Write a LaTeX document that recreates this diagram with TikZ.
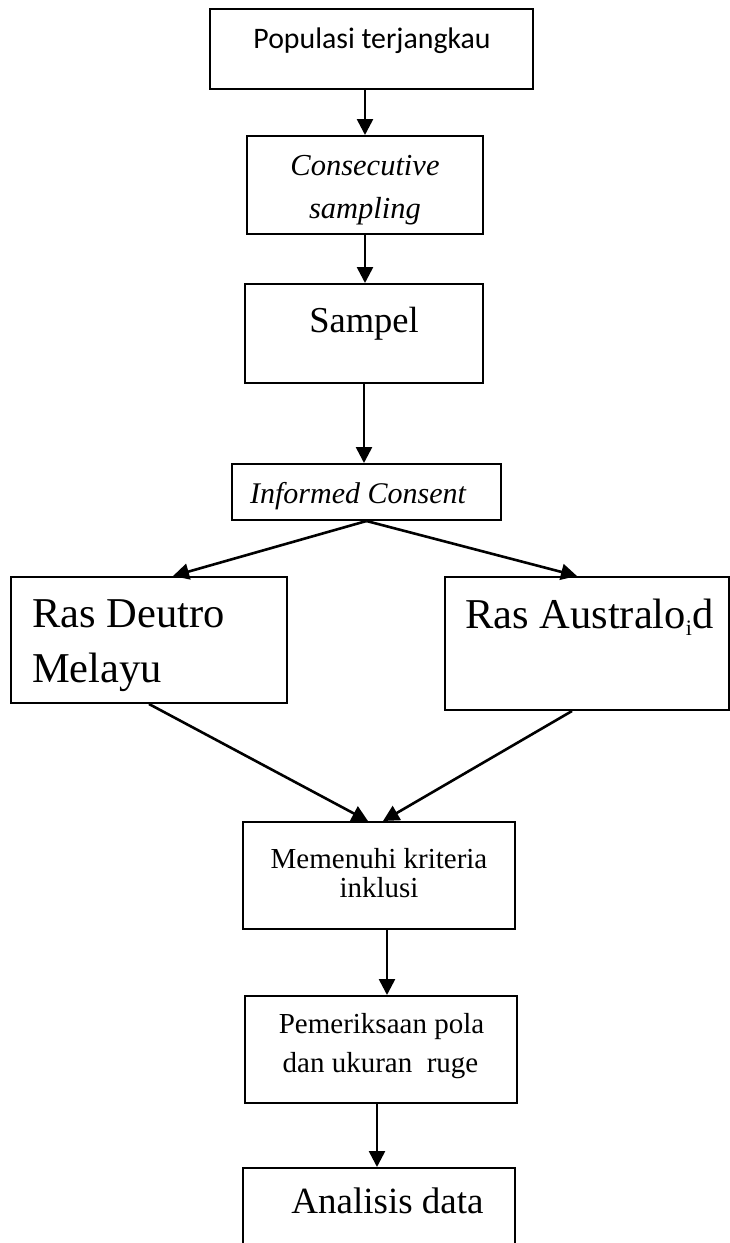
\documentclass[tikz,border=0pt]{standalone}
\usepackage{fontspec}
\setmainfont{Liberation Serif}
\newfontfamily\calibri{Carlito}
\usetikzlibrary{arrows.meta}
\tikzset{
  box/.style={draw, line width=2pt, inner sep=0pt},
  txt/.style={anchor=base, inner sep=0pt},
  lefttxt/.style={anchor=base west, inner sep=0pt},
  arr/.style={line width=2.6pt, -{Triangle[length=16pt,width=16pt]}}
}
\newcommand{\fsz}[1]{\fontsize{#1}{#1}\selectfont}

\begin{document}
\begin{tikzpicture}[x=1pt,y=-1pt]
\useasboundingbox (0,0) rectangle (730,1243);
\node[box, minimum width=323pt, minimum height=80pt] (pop) at (371.5,49) {};
\node[box, minimum width=236pt, minimum height=98pt] (cons) at (365,185) {};
\node[box, minimum width=238pt, minimum height=99pt] (samp) at (364,333.5) {};
\node[box, minimum width=269pt, minimum height=56pt] (inf) at (366.5,492) {};
\node[box, minimum width=276pt, minimum height=126pt] (deu) at (149,640) {};
\node[box, minimum width=284pt, minimum height=133pt] (aus) at (587,643.5) {};
\node[box, minimum width=272pt, minimum height=107pt] (mem) at (379,875.5) {};
\node[box, minimum width=272pt, minimum height=107pt] (pem) at (381,1049.5) {};
\node[box, minimum width=272pt, minimum height=92pt] (ana) at (379,1214) {};

\node[txt] (popt) at (372,48) {\calibri\fsz{29.8}Populasi terjangkau};
\node[txt] (const1) at (365,175) {\fsz{30.5}\itshape Consecutive};
\node[txt] (const2) at (365,218) {\fsz{30.5}\itshape sampling};
\node[txt] (sampt) at (364,332) {\fsz{36.5}Sampel};
\node[txt] (inft) at (358,503) {\fsz{30}\itshape Informed Consent};
\node[lefttxt] (deut1) at (32,627) {\fsz{42.5}Ras Deutro};
\node[lefttxt] (deut2) at (32,682) {\fsz{42.5}Melayu};
\node[lefttxt] (aust) at (465,628) {\fsz{42.5}Ras Australo\raisebox{-7pt}{\fsz{22}i}d};
\node[txt] (memt1) at (379,868) {\fsz{29}Memenuhi kriteria};
\node[txt] (memt2) at (379,897) {\fsz{29}inklusi};
\node[txt] (pemt1) at (381.5,1033) {\fsz{29}Pemeriksaan pola};
\node[txt] (pemt2) at (380.5,1072) {\fsz{29}dan ukuran\ \ ruge};
\node[txt] (anat) at (387.5,1213) {\fsz{37}Analisis data};

\draw[arr] (pop.south -| cons.north) -- (cons.north);
\draw[arr] (cons.south) -- (cons.south |- samp.north);
\draw[arr] (samp.south) -- (samp.south |- inf.north);
\draw[arr] (inf.south) -- ([xshift=24pt]deu.north);
\draw[arr] (inf.south) -- ([xshift=-10pt]aus.north);
\draw[arr] (deu.south) -- ([xshift=-11pt]mem.north);
\draw[arr] ([xshift=-15pt]aus.south) -- ([xshift=4pt]mem.north);
\draw[arr] ([xshift=8pt]mem.south) -- ([xshift=6pt]pem.north);
\draw[arr] ([xshift=-4pt]pem.south) -- ([xshift=-2pt]ana.north);
\end{tikzpicture}
\end{document}
